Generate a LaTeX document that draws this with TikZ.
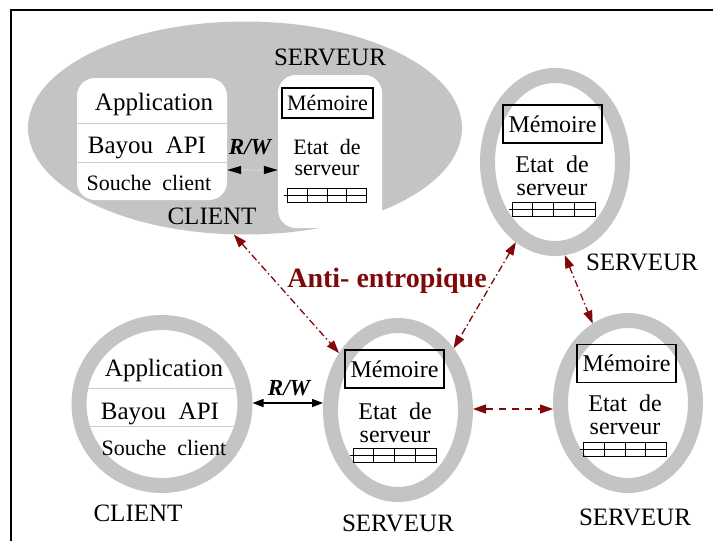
\documentclass[tikz,border=0pt]{standalone}
\usepackage{fontspec}
\setmainfont{Liberation Serif}
\usetikzlibrary{shapes.geometric,arrows.meta,calc}
\definecolor{ringgray}{RGB}{196,196,196}
\definecolor{antired}{RGB}{128,8,8}
\definecolor{sepgray}{RGB}{205,205,205}

\begin{document}
\begin{tikzpicture}[x=1pt,y=-1pt,
  lbl/.style={inner sep=0pt, font=\fontsize{25}{25}\selectfont},
  smalllbl/.style={inner sep=0pt, font=\fontsize{22}{22}\selectfont},
  statelbl/.style={inner sep=0pt, align=center, font=\fontsize{24}{23}\selectfont},
  ring/.style={ellipse, draw=ringgray, line width=15pt, fill=white, inner sep=0pt},
  whitebox/.style={fill=white, rounded corners=18pt, inner sep=0pt},
  membox/.style={draw, line width=1.2pt, inner sep=0pt, minimum width=99pt, minimum height=38pt,
                 font=\fontsize{24}{24}\selectfont},
  sepline/.style={sepgray, line width=0.9pt},
  antiarrow/.style={antired, line width=1.3pt, dash pattern=on 7pt off 3pt on 1.5pt off 3pt,
                    {Triangle[length=13pt,width=9pt]}-{Triangle[length=13pt,width=9pt]}},
  antidash/.style={antired, line width=1.3pt, dash pattern=on 7pt off 6pt,
                    {Triangle[length=13pt,width=9pt]}-{Triangle[length=13pt,width=9pt]}},
  rwarrow/.style={black, line width=1.4pt, {Triangle[length=11pt,width=8pt]}-{Triangle[length=11pt,width=8pt]}},
  rwsplit/.style={sepgray, line width=1.2pt,
                  {Triangle[black,length=14pt,width=8pt]}-{Triangle[black,length=14pt,width=8pt]}},
  regtable/.pic={
    \draw[line width=1pt] (-41.5,-7) rectangle (41.5,7);
    \draw[line width=1pt] (-45,0) -- (41.5,0);
    \foreach \cx in {-20.75,0,20.75} \draw[line width=1pt] (\cx,-7) -- (\cx,7);
  }
]
\useasboundingbox (0,0) rectangle (713,541);

% frame
\draw[line width=1.3pt] (11,541) -- (11,10) -- (713,10);

% ---------- client + server sharing one machine ----------
\node[ellipse, fill=ringgray, inner sep=0pt, minimum width=434pt, minimum height=213pt] (host) at (245,128) {};
\node[whitebox, minimum width=150pt, minimum height=122pt] (cbox1) at (152,139) {};
\draw[sepline] (cbox1.west |- 0,123) -- (cbox1.east |- 0,123);
\draw[sepline] (cbox1.west |- 0,162) -- (cbox1.east |- 0,162);
\node[lbl] (app1) at (154,104) {Application};
\node[lbl] (api1) at (147,148) {Bayou\ \ API};
\node[smalllbl] (stub1) at (149,183) {Souche\ \ client};
\node[lbl] (cl1) at (212,216) {CLIENT};

\node[whitebox, minimum width=104pt, minimum height=153pt] (sbox1) at (330,151.5) {};
\node[lbl] (srv1) at (330,57) {SERVEUR};
\node[membox, minimum width=91pt, minimum height=30pt, font=\fontsize{22}{22}\selectfont] (mem1) at (327.5,103) {Mémoire};
\node[statelbl, font=\fontsize{22}{21}\selectfont] (st1) at (327,157) {Etat\ \ de\\serveur};
\pic[xscale=0.96, yscale=0.93] at (327,195.5) {regtable};

\node[inner sep=0pt, font=\fontsize{23}{23}\selectfont\bfseries\itshape] (rw1) at (250,147) {R/W};
\coordinate (rwy1) at (250,170);
\draw[rwsplit] (cbox1.east |- rwy1) -- (sbox1.west |- rwy1);

% ---------- server, top right ----------
\node[ring, minimum width=135pt, minimum height=173pt] (tr) at (555,162) {};
\node[membox] (mem2) at (552.5,124) {Mémoire};
\node[statelbl] (st2) at (552,176) {Etat\ \ de\\serveur};
\pic at (553.5,209) {regtable};
\node[lbl] (srv2) at (642,262) {SERVEUR};

% ---------- client, bottom left ----------
\node[ring, minimum width=166pt, minimum height=163pt] (cc) at (162,404) {};
\draw[sepline] (88,388) -- (235,388);
\draw[sepline] (88,426) -- (235,426);
\node[lbl] (app2) at (164,370) {Application};
\node[lbl] (api2) at (160,414) {Bayou\ \ API};
\node[smalllbl] (stub2) at (164,448) {Souche\ \ client};
\node[lbl] (cl2) at (138,513) {CLIENT};

% ---------- server, bottom middle ----------
\node[ring, minimum width=135pt, minimum height=169pt] (bm) at (398,410) {};
\node[membox] (mem3) at (394.5,369) {Mémoire};
\node[statelbl] (st3) at (395,423) {Etat\ \ de\\serveur};
\pic at (394.5,455.5) {regtable};
\node[lbl] (srv3) at (398,523) {SERVEUR};

% ---------- server, bottom right ----------
\node[ring, minimum width=135pt, minimum height=165pt] (br) at (628,403) {};
\node[membox] (mem4) at (626.5,363.5) {Mémoire};
\node[statelbl] (st4) at (625,415) {Etat\ \ de\\serveur};
\pic at (625,449.5) {regtable};
\node[lbl] (srv4) at (635,517) {SERVEUR};

% ---------- read/write between client and server ----------
\node[inner sep=0pt, font=\fontsize{23}{23}\selectfont\bfseries\itshape] (rw2) at (289,388) {R/W};
\draw[rwarrow] (cc.east |- 0,403) -- (bm.west |- 0,403);

% ---------- anti-entropy exchanges ----------
\node[inner sep=0pt, text=antired, font=\fontsize{28}{28}\selectfont\bfseries] (anti) at (387,281) {Anti-\ entropique};
\draw[antiarrow] (host.264) -- (bm.136);
\draw[antiarrow] (tr.244) -- (bm.48);
\draw[antiarrow] (tr.276) -- (br.114);
\draw[antidash] (bm.east |- 0,409) -- (br.west |- 0,409);
\end{tikzpicture}
\end{document}
